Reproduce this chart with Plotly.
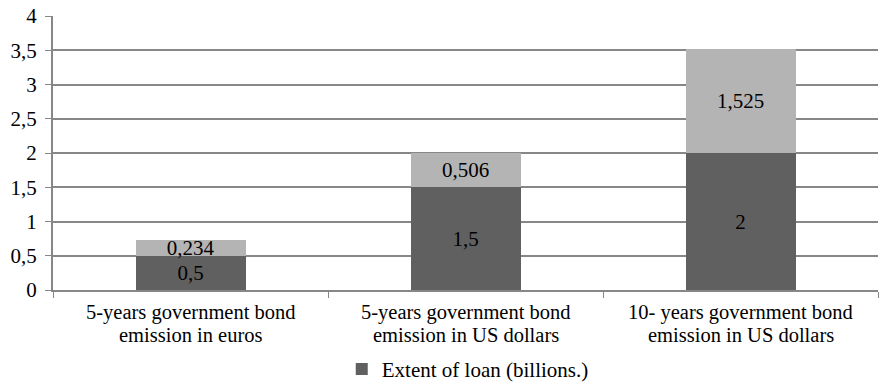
import plotly.graph_objects as go

# Bond emissions and their two loan components (billions)
categories = [
    "5-years government bond emission in euros",
    "5-years government bond emission in US dollars",
    "10- years government bond emission in US dollars",
]
label_lines = [
    ("5-years government bond", "emission in euros"),
    ("5-years government bond", "emission in US dollars"),
    ("10- years government bond", "emission in US dollars"),
]
extent_of_loan = [0.5, 1.5, 2]
additional_part = [0.234, 0.506, 1.525]
y_ticks = [0, 0.5, 1, 1.5, 2, 2.5, 3, 3.5, 4]


def comma(v):
    return str(v).replace(".", ",")


FONT = "Liberation Serif"
SIZE = 21
GRID = "#878787"

fig = go.Figure()
fig.add_trace(go.Bar(
    x=categories, y=extent_of_loan,
    name="Extent of loan (billions.)",
    marker=dict(color="#606060", line=dict(width=0)),
    text=[comma(v) for v in extent_of_loan],
    textposition="inside", insidetextanchor="middle",
    textfont=dict(family=FONT, size=SIZE, color="black"),
    hoverinfo="skip",
))
fig.add_trace(go.Bar(
    x=categories, y=additional_part,
    name="",
    showlegend=False,
    marker=dict(color="#b4b4b4", line=dict(width=0)),
    text=[comma(v) for v in additional_part],
    textposition="inside", insidetextanchor="middle",
    textfont=dict(family=FONT, size=SIZE, color="black"),
    hoverinfo="skip",
))

# Two-line category labels under the axis, with tight line spacing
for cat, (first, second) in zip(categories, label_lines):
    for text, shift in ((first, -9), (second, -32)):
        fig.add_annotation(x=cat, xref="x", y=0, yref="paper", yanchor="top",
                           yshift=shift, text=text, showarrow=False,
                           font=dict(family=FONT, size=20.5, color="black"))

fig.update_layout(
    width=879, height=382,
    barmode="stack", bargap=0.6,
    separators=",.",
    uniformtext=dict(mode="show", minsize=SIZE),
    paper_bgcolor="white", plot_bgcolor="white",
    margin=dict(l=53, r=1, t=16, b=92, autoexpand=False),
    font=dict(family=FONT, size=SIZE, color="black"),
    legend=dict(orientation="h", x=0.35, xanchor="left", y=-0.215, yanchor="top",
                font=dict(family=FONT, size=SIZE), itemwidth=30,
                itemclick=False, itemdoubleclick=False),
    xaxis=dict(
        type="category", tickson="boundaries", ticks="outside", ticklen=6,
        tickcolor=GRID, showline=True, linecolor=GRID, linewidth=2,
        showgrid=False, showticklabels=False, automargin=False,
    ),
    yaxis=dict(
        range=[0, 4], tickvals=y_ticks, ticktext=[comma(v) for v in y_ticks],
        ticks="outside", ticklen=6, tickcolor=GRID, ticklabelstandoff=4,
        showline=True, linecolor=GRID, linewidth=2,
        showgrid=True, gridcolor=GRID, gridwidth=2,
        zeroline=False, automargin=False, tickfont=dict(family=FONT, size=SIZE),
    ),
)

fig.write_html("out.html")
